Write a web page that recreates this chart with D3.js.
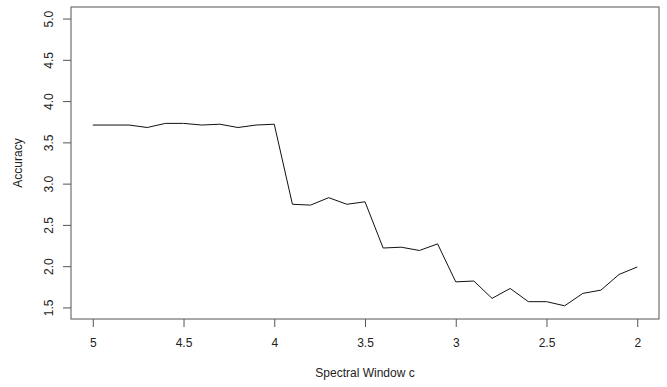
<!DOCTYPE html>
<html>
<head>
<meta charset="utf-8">
<script src="https://cdn.jsdelivr.net/npm/d3@7"></script>
<style>
  html, body { margin: 0; padding: 0; background: #fff; }
  svg { display: block; }
  text { font-family: "Liberation Sans", Arial, sans-serif; fill: #222; }
</style>
</head>
<body>
<svg id="chart" width="667" height="387"></svg>
<script>
// Spectral window c, from 5 down to 2 in steps of 0.1
const windowC = [5.0, 4.9, 4.8, 4.7, 4.6, 4.5, 4.4, 4.3, 4.2, 4.1,
                 4.0, 3.9, 3.8, 3.7, 3.6, 3.5, 3.4, 3.3, 3.2, 3.1,
                 3.0, 2.9, 2.8, 2.7, 2.6, 2.5, 2.4, 2.3, 2.2, 2.1, 2.0];
const accuracy = [3.71, 3.71, 3.71, 3.68, 3.73, 3.73, 3.71, 3.72, 3.68, 3.71,
                  3.72, 2.75, 2.74, 2.83, 2.75, 2.78, 2.22, 2.23, 2.19, 2.27,
                  1.81, 1.82, 1.61, 1.73, 1.57, 1.57, 1.52, 1.67, 1.71, 1.90, 1.99];
const xTicks = [5, 4.5, 4, 3.5, 3, 2.5, 2];
const xTickLabels = ["5", "4.5", "4", "3.5", "3", "2.5", "2"];
const yTicks = [1.5, 2.0, 2.5, 3.0, 3.5, 4.0, 4.5, 5.0];
const yTickLabels = ["1.5", "2.0", "2.5", "3.0", "3.5", "4.0", "4.5", "5.0"];

const svg = d3.select("#chart");
const box = { left: 71, right: 659, top: 7, bottom: 319 };
const fontSize = 12;

// reversed x axis, 4% padding on both ends
const xPad = 0.04 * (5 - 2);
const yPad = 0.04 * (5 - 1.5);
const x = d3.scaleLinear().domain([5 + xPad, 2 - xPad]).range([box.left, box.right]);
const y = d3.scaleLinear().domain([1.5 - yPad, 5 + yPad]).range([box.bottom, box.top]);

const axisColor = "#555";

// x axis
const xAxis = svg.append("g")
  .attr("transform", `translate(0,${box.bottom})`)
  .call(d3.axisBottom(x).tickValues(xTicks)
    .tickFormat((d, i) => xTickLabels[i]).tickSize(8).tickPadding(11));
xAxis.select(".domain").remove();
xAxis.selectAll("line").attr("stroke", axisColor);
xAxis.selectAll("text").attr("font-size", fontSize).attr("fill", "#222")
  .attr("font-family", "Liberation Sans, Arial, sans-serif");

// y axis with rotated labels
const yAxis = svg.append("g")
  .attr("transform", `translate(${box.left},0)`)
  .call(d3.axisLeft(y).tickValues(yTicks)
    .tickFormat((d, i) => yTickLabels[i]).tickSize(8).tickPadding(0));
yAxis.select(".domain").remove();
yAxis.selectAll("line").attr("stroke", axisColor);
yAxis.selectAll("text")
  .attr("font-size", fontSize).attr("fill", "#222")
  .attr("font-family", "Liberation Sans, Arial, sans-serif")
  .attr("text-anchor", "middle")
  .attr("dy", null)
  .attr("x", null)
  .attr("transform", "translate(-22,0) rotate(-90)")
  .attr("dominant-baseline", "central");

// plot frame
svg.append("rect")
  .attr("x", box.left).attr("y", box.top)
  .attr("width", box.right - box.left).attr("height", box.bottom - box.top)
  .attr("fill", "none").attr("stroke", axisColor).attr("stroke-width", 1);

// accuracy line
const line = d3.line().x((d, i) => x(windowC[i])).y(d => y(d));
svg.append("path")
  .datum(accuracy)
  .attr("d", line)
  .attr("fill", "none")
  .attr("stroke", "#111")
  .attr("stroke-width", 1);

// axis titles
svg.append("text")
  .attr("x", (box.left + box.right) / 2).attr("y", 377)
  .attr("text-anchor", "middle").attr("font-size", fontSize)
  .text("Spectral Window c");
svg.append("text")
  .attr("transform", `translate(22,${(box.top + box.bottom) / 2}) rotate(-90)`)
  .attr("text-anchor", "middle").attr("font-size", fontSize)
  .text("Accuracy");
</script>
</body>
</html>
